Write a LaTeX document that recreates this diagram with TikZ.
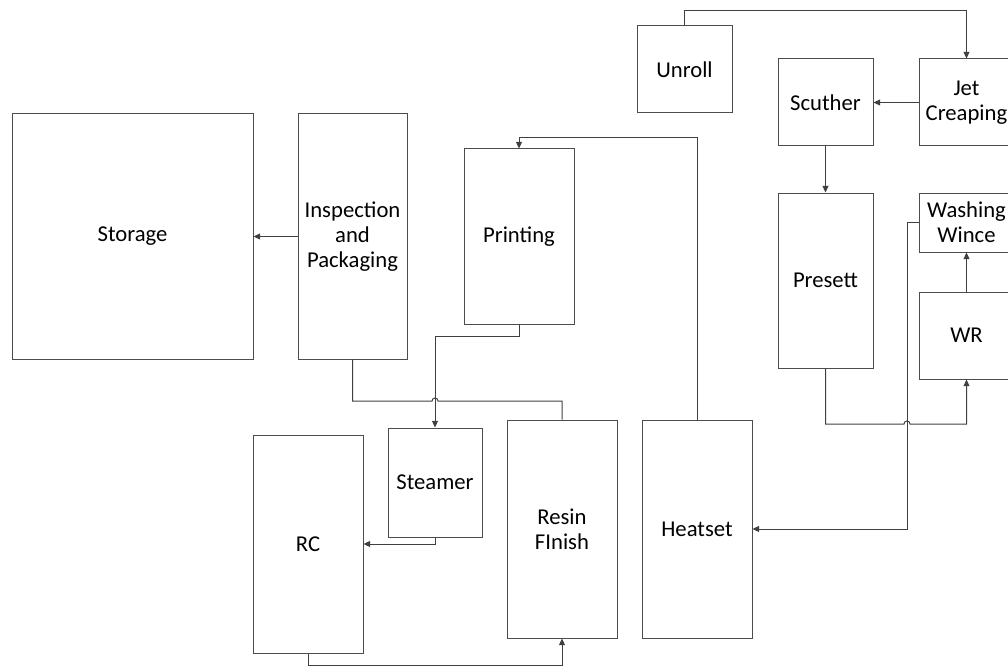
\documentclass[tikz,border=0pt]{standalone}
\usepackage{fontspec}
\setmainfont{Carlito}
\usetikzlibrary{positioning}
\usetikzlibrary{arrows.meta}

\tikzset{
    unit/.style = {draw = black!70, line width = 0.75pt, align = center, inner sep = 0pt,
                   font = \fontsize{17pt}{18.75pt}\selectfont},
    link/.style = {draw = black!75, line width = 0.75pt},
    tip/.style  = {link, -{Triangle[length = 5pt, width = 4.5pt]}}
}

\begin{document}
\begin{tikzpicture}[x = 0.75pt, y = -0.75pt]
                            \useasboundingbox (0, 0) rectangle (1008, 667);
                            \clip (0, 0) rectangle (1008, 667);
                            % left half
                            \node[unit, minimum width = 180.75pt, minimum height = 183.75pt] (storage) at (132.5, 236.5) {Storage};
                            \node[unit, minimum width = 81.75pt, minimum height = 183.75pt] (inspect) at (352.5, 236.5) {Inspection\\and\\Packaging};
                            \node[unit, minimum width = 82.5pt, minimum height = 131.25pt] (print) at (519, 236.5) {Printing};
                            \node[unit, minimum width = 82.5pt, minimum height = 163.5pt] (rc) at (308, 544) {RC};
                            \node[unit, minimum width = 70.5pt, minimum height = 81.75pt] (steam) at (435, 482.5) {Steamer};
                            \node[unit, minimum width = 82.5pt, minimum height = 163.5pt] (resin) at (562, 529) {Resin\\FInish};
                            \node[unit, minimum width = 82.5pt, minimum height = 163.5pt] (heat) at (697, 529) {Heatset};
                            % right half
                            \node[unit, minimum width = 71.25pt, minimum height = 65.25pt] (unroll) at (684.5, 69.5) {Unroll};
                            \node[unit, minimum width = 71.25pt, minimum height = 65.25pt] (scuth) at (825.5, 102.5) {Scuther};
                            \node[unit, minimum width = 71.25pt, minimum height = 65.25pt] (jet) at (966.5, 102.5) {Jet\\Creaping};
                            \node[unit, minimum width = 71.25pt, minimum height = 131.25pt] (preset) at (825.5, 280.5) {Presett};
                            \node[unit, minimum width = 71.25pt, minimum height = 44.25pt] (wash) at (966.5, 222.5) {Washing\\Wince};
                            \node[unit, minimum width = 71.25pt, minimum height = 65.25pt] (wr) at (966.5, 335.5) {WR};
                            % connectors
                            \draw[tip] (unroll.north) -- (684.5, 11) -| (jet.north);
                            \draw[tip] (jet.west) -- (scuth.east);
                            \draw[tip] (scuth.south) -- (preset.north);
                            \draw[tip] (preset.south) |- (904, 424) .. controls (904, 420) and (910, 420) .. (910, 424) -| (wr.south);
                            \draw[tip] (wr.north) -- (wash.south);
                            \draw[tip] (wash.west) -- (907, 222.5) |- (heat.east);
                            \draw[tip] (heat.north) |- (519, 138) -- (print.north);
                            \draw[tip] (print.south) |- (435, 336) -- (steam.north);
                            \draw[tip] (steam.south) |- (rc.east);
                            \draw[tip] (rc.south) |- (562, 665) -- (resin.south);
                            \draw[link] (inspect.south) |- (432, 401) .. controls (432, 397) and (438, 397) .. (438, 401) -| (resin.north);
                            \draw[tip] (inspect.west) -- (storage.east);
                        \end{tikzpicture}
\end{document}
